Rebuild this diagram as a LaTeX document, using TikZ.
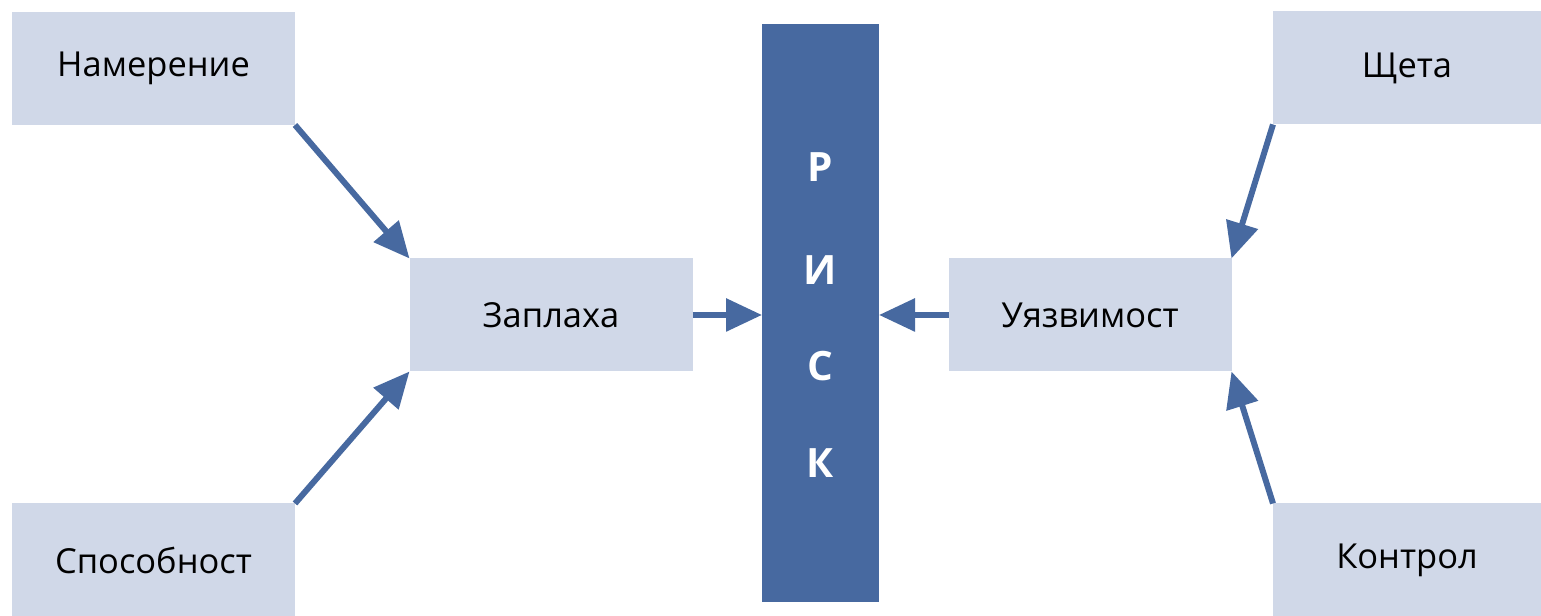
\documentclass[tikz,border=0pt]{standalone}
\usepackage{fontspec}
\setmainfont{Open Sans}
\usetikzlibrary{positioning,calc,arrows.meta}
\definecolor{boxfill}{HTML}{D0D8E8}
\definecolor{riskblue}{HTML}{4769A0}
\tikzstyle{edge} = [-{Triangle[length=3.6mm,width=3.2mm]}, line width=1.7pt, draw=riskblue, shorten >=0pt]
\tikzstyle{factor} = [fill=boxfill, inner sep=0pt, outer sep=0pt, minimum width=2.83cm, minimum height=1.13cm, font=\fontsize{9.8}{11}\selectfont]

\begin{document}
\begin{tikzpicture}
\useasboundingbox (0,0) rectangle (15.41,6.16);
	\node[factor] (intent) at (1.535, 5.475) {Намерение};
	\node[factor] (capab) at (1.535, 0.56) {Способност};
	\node[factor] (threat) at (5.51, 3.01) {Заплаха};
	\node[factor] (vuln) at (10.90, 3.01) {Уязвимост};
	\node[factor, minimum width=2.68cm] (damage) at (14.07, 5.48) {Щета};
	\node[factor, minimum width=2.68cm] (ctrl) at (14.07, 0.56) {Контрол};
	\node[fill=riskblue, inner sep=0pt, outer sep=0pt, minimum width=1.17cm, minimum height=5.78cm] (risk) at (8.205, 3.03) {};
	\foreach \l/\y [count=\i] in {Р/4.49, И/3.46, С/2.50, К/1.53}
		\node[text=white, font=\fontsize{11.5}{13}\selectfont\bfseries] (r\i) at (8.205, \y) {\l};

	\draw[edge]  (intent.south east) -- (threat.north west);
	\draw[edge]  (capab.north east) -- (threat.south west);
	\draw[edge]  (threat.east) -- (risk.west |- threat.east);
	\draw[edge]  (vuln.west) -- (risk.east |- vuln.west);
	\draw[edge]  (damage.south west) -- (vuln.north east);
	\draw[edge]  (ctrl.north west) -- (vuln.south east);
\end{tikzpicture}
\end{document}
